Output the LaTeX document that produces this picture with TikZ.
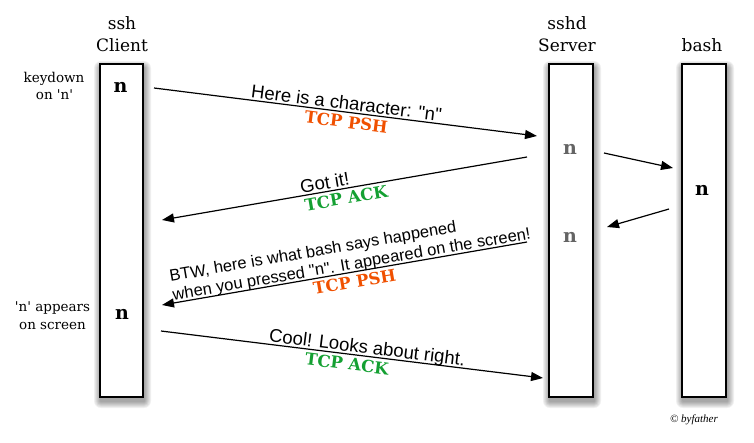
\documentclass[tikz,border=0pt]{standalone}
\usepackage{fontspec}
\newfontfamily\serif{DejaVu Serif}
\newfontfamily\hv{Liberation Sans}
\newfontfamily\cpy{Liberation Serif}
\usetikzlibrary{arrows.meta}
\definecolor{psh}{RGB}{240,80,0}
\definecolor{ack}{RGB}{20,160,50}
\definecolor{grayn}{RGB}{100,100,100}
\newcommand\myboxshadow[4]{%
  \foreach \r in {1,...,7}{%
    \fill[black,opacity=0.06,rounded corners=\r pt] ({#1+1-\r},{#2+4-\r}) rectangle ({#3+1+\r},{#4+4+\r});}}
\begin{document}
\begin{tikzpicture}[x=1pt,y=-1pt,
  lifebox/.style={draw=black,line width=1.4pt,fill=white,minimum width=43pt,minimum height=333pt,inner sep=0pt},
  head/.style={font=\serif\fontsize{17}{20}\selectfont,anchor=base,inner sep=0pt},
  side/.style={font=\serif\fontsize{13.5}{18}\selectfont,anchor=base,inner sep=0pt},
  ch/.style={font=\serif\fontsize{19}{20}\selectfont\bfseries,anchor=base,inner sep=0pt},
  msg/.style={-{Triangle[length=12pt,width=9pt]},line width=1.2pt},
  say/.style={font=\hv\fontsize{18.5}{22}\selectfont,sloped,anchor=south,inner sep=2pt,text depth=0pt},
  saysmall/.style={font=\hv\fontsize{16.5}{19}\selectfont,align=left,sloped,anchor=south,inner sep=2pt,text depth=0pt},
  tcp/.style={font=\serif\fontsize{16.5}{18}\selectfont\bfseries,sloped,anchor=north,inner sep=3pt},
]
\path[use as bounding box] (0,0) rectangle (754,442);

% shadows
\myboxshadow{100}{64}{143}{397}
\myboxshadow{549}{64}{593}{397}
\myboxshadow{682}{64}{726}{397}

% lifelines
\node[lifebox] (client) at (121.5,230.5) {};
\node[lifebox,minimum width=44pt] (server) at (571,230.5) {};
\node[lifebox,minimum width=44pt] (bash) at (704,230.5) {};

% headings
\node[head] (h1) at (122,29) {ssh};
\node[head] (h2) at (122,51) {Client};
\node[head] (h3) at (567,29) {sshd};
\node[head] (h4) at (567,51) {Server};
\node[head] (h5) at (702,51) {bash};

% side labels
\node[side] (k1) at (54,82) {keydown};
\node[side] (k2) at (54.5,99) {on 'n'};
\node[side] (a1) at (52.5,311) {'n' appears};
\node[side] (a2) at (52.5,329) {on screen};

% characters
\node[ch] (n1) at (120.5,92) {n};
\node[ch] (n2) at (122,319) {n};
\node[ch,text=grayn] (n3) at (570,154) {n};
\node[ch,text=grayn] (n4) at (570,242) {n};
\node[ch] (n5) at (702,195) {n};

% message end points
\coordinate (m1s) at (154,88);  \coordinate (m1e) at (537,136);
\coordinate (m2s) at (527,157); \coordinate (m2e) at (162,220);
\coordinate (m3s) at (604,153); \coordinate (m3e) at (673,168);
\coordinate (m4s) at (669,209); \coordinate (m4e) at (607,227);
\coordinate (m5s) at (527,242); \coordinate (m5e) at (162,305);
\coordinate (m6s) at (161,331); \coordinate (m6e) at (543,378);

\draw[msg] (m1s) -- (m1e)
  node[say,pos=0.5] (t1) {Here is a character: "n"}
  node[tcp,pos=0.505,text=psh] (p1) {TCP PSH};
\draw[msg] (m2s) -- (m2e)
  node[say,pos=0.55] (t2) {Got it!}
  node[tcp,pos=0.5,text=ack] (p2) {TCP ACK};
\draw[msg] (m3s) -- (m3e);
\draw[msg] (m4s) -- (m4e);
\draw[msg] (m5s) -- (m5e)
  node[saysmall,pos=0.477] (t5) {BTW, here is what bash says happened\\when you pressed "n". It appeared on the screen!}
  node[tcp,pos=0.477,text=psh] (p5) {TCP PSH};
\draw[msg] (m6s) -- (m6e)
  node[say,pos=0.537] (t6) {Cool! Looks about right.}
  node[tcp,pos=0.49,text=ack] (p6) {TCP ACK};

\node[font=\cpy\fontsize{11}{13}\selectfont\itshape,anchor=base,inner sep=0pt] (cp) at (694,422) {© byfather};
\end{tikzpicture}
\end{document}
